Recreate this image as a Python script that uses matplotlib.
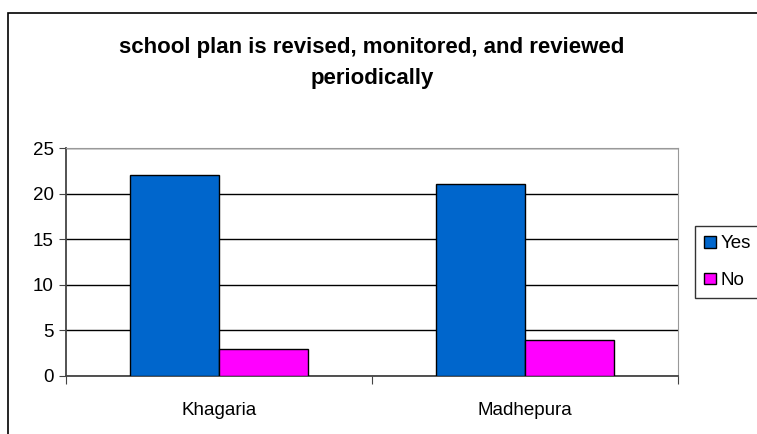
import matplotlib
matplotlib.use("Agg")
import matplotlib.pyplot as plt
from matplotlib.patches import Rectangle

plt.rcParams["font.family"] = ["Liberation Sans", "DejaVu Sans"]

categories = ["Khagaria", "Madhepura"]
yes_vals = [22, 21]
no_vals = [3, 4]
y_ticks = [0, 5, 10, 15, 20, 25]

C_YES = "#0066CC"
C_NO = "#FF00FF"

fig = plt.figure(figsize=(7.57, 4.34), dpi=100)
W, H = 757, 434

# outer chart border (right and bottom run off the image)
fig.patches.append(Rectangle((8 / W, -0.1), 1.2, 1 - 13 / H + 0.1,
                             transform=fig.transFigure, fill=False,
                             edgecolor="black", lw=1.2))

ax = fig.add_axes([66 / W, 1 - 376 / H, (678 - 66) / W, (376 - 148) / H])

x = range(len(categories))
bw = 0.29
ax.bar([i - bw / 2 for i in x], yes_vals, bw, color=C_YES, edgecolor="black", lw=1, label="Yes", zorder=3)
ax.bar([i + bw / 2 for i in x], no_vals, bw, color=C_NO, edgecolor="black", lw=1, label="No", zorder=3)

ax.set_xlim(-0.5, len(categories) - 0.5)
ax.set_ylim(0, 25)
ax.set_yticks(y_ticks)
ax.yaxis.grid(True, color="black", lw=1)
ax.set_axisbelow(True)

ax.set_xticks([-0.5, 0.5, 1.5])
ax.set_xticklabels([])
ax.set_xticks(list(x), minor=True)
ax.set_xticklabels(categories, minor=True, fontsize=13.5)
ax.tick_params(axis="x", which="major", direction="out", length=6, color="#444444")
ax.tick_params(axis="x", which="minor", length=0, pad=19)
ax.tick_params(axis="y", direction="out", length=5, color="#444444", labelsize=13.5, pad=4)

for s in ("top", "right"):
    ax.spines[s].set_color("#999999")
for s in ("left", "bottom"):
    ax.spines[s].set_color("#444444")
    ax.spines[s].set_linewidth(1.3)

fig.text(372 / W, 1 - 63 / H,
         "school plan is revised, monitored, and reviewed\nperiodically",
         ha="center", va="center", fontsize=16, fontweight="bold", linespacing=1.65)

fig.legend(loc="upper left", bbox_to_anchor=(695 / W, 1 - 226 / H),
           fontsize=13.5, frameon=True, fancybox=False, edgecolor="black",
           handlelength=0.6, handleheight=0.6, handletextpad=0.25,
           borderpad=0.5, labelspacing=1.05, borderaxespad=0)

fig.savefig("out.png", dpi=100)
